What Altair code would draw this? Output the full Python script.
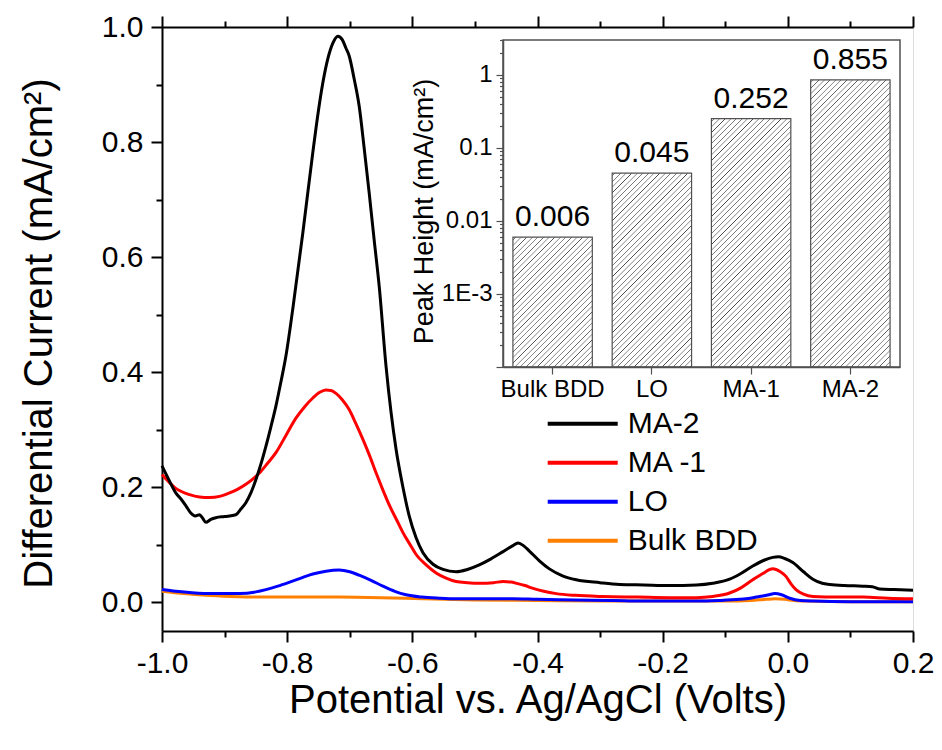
import math
import altair as alt
import pandas as pd

FONT = "Liberation Sans"

# ---------------- data ----------------
series_order = ["MA-2", "MA -1", "LO", "Bulk BDD"]
series_colors = ["#000000", "#ff0000", "#0000ff", "#ff8000"]

ma2_x = [-1.000, -0.990, -0.978, -0.970, -0.962, -0.954, -0.947, -0.940, -0.935, -0.930,
         -0.922, -0.914, -0.900, -0.882, -0.874, -0.866, -0.858, -0.850, -0.842, -0.834,
         -0.826, -0.818, -0.810, -0.802, -0.791, -0.775, -0.759, -0.750, -0.743, -0.735,
         -0.727, -0.719, -0.712, -0.706, -0.701, -0.693, -0.685, -0.677, -0.669, -0.661,
         -0.653, -0.642, -0.634, -0.626, -0.615, -0.605, -0.594, -0.583, -0.567, -0.551,
         -0.530, -0.512, -0.493, -0.475, -0.455, -0.440, -0.431, -0.422, -0.413, -0.397,
         -0.381, -0.360, -0.338, -0.300, -0.269, -0.230, -0.189, -0.146, -0.120, -0.093,
         -0.075, -0.056, -0.038, -0.024, -0.015, -0.005, 0.008, 0.025, 0.040, 0.055,
         0.067, 0.090, 0.120, 0.135, 0.147, 0.170, 0.200]
ma2_y = [0.237, 0.215, 0.190, 0.180, 0.168, 0.155, 0.150, 0.152, 0.146, 0.139,
         0.144, 0.147, 0.149, 0.152, 0.162, 0.173, 0.190, 0.213, 0.240, 0.271,
         0.305, 0.341, 0.383, 0.428, 0.510, 0.642, 0.782, 0.855, 0.903, 0.945,
         0.972, 0.984, 0.978, 0.963, 0.950, 0.910, 0.863, 0.790, 0.712, 0.630,
         0.550, 0.410, 0.330, 0.266, 0.200, 0.150, 0.112, 0.086, 0.066, 0.057,
         0.053, 0.057, 0.065, 0.075, 0.088, 0.098, 0.103, 0.098, 0.089, 0.072,
         0.058, 0.046, 0.039, 0.034, 0.031, 0.030, 0.029, 0.030, 0.033, 0.040,
         0.050, 0.063, 0.073, 0.078, 0.079, 0.076, 0.069, 0.053, 0.040, 0.033,
         0.031, 0.029, 0.028, 0.027, 0.023, 0.022, 0.021]

ma1_x = [-1.000, -0.978, -0.956, -0.940, -0.924, -0.908, -0.892, -0.878, -0.866, -0.855,
         -0.844, -0.831, -0.818, -0.802, -0.786, -0.772, -0.759, -0.748, -0.738, -0.730,
         -0.722, -0.712, -0.701, -0.690, -0.679, -0.668, -0.658, -0.647, -0.636, -0.625,
         -0.615, -0.604, -0.594, -0.578, -0.562, -0.546, -0.530, -0.512, -0.493, -0.470,
         -0.455, -0.442, -0.434, -0.420, -0.407, -0.390, -0.370, -0.340, -0.296, -0.240,
         -0.189, -0.146, -0.120, -0.093, -0.075, -0.056, -0.040, -0.024, -0.012, -0.003,
         0.005, 0.013, 0.025, 0.040, 0.080, 0.120, 0.160, 0.200]
ma1_y = [0.222, 0.198, 0.187, 0.183, 0.182, 0.184, 0.190, 0.197, 0.205, 0.214,
         0.225, 0.242, 0.260, 0.290, 0.320, 0.340, 0.355, 0.365, 0.369, 0.368,
         0.363, 0.352, 0.335, 0.310, 0.283, 0.254, 0.225, 0.195, 0.167, 0.143,
         0.121, 0.101, 0.083, 0.065, 0.051, 0.042, 0.036, 0.034, 0.033, 0.034,
         0.036, 0.035, 0.033, 0.029, 0.024, 0.019, 0.015, 0.012, 0.010, 0.009,
         0.008, 0.008, 0.010, 0.016, 0.025, 0.039, 0.050, 0.058, 0.053, 0.045,
         0.032, 0.022, 0.014, 0.010, 0.009, 0.009, 0.007, 0.006]

lo_x = [-1.000, -0.978, -0.956, -0.920, -0.876, -0.850, -0.834, -0.815, -0.796, -0.778,
        -0.759, -0.738, -0.717, -0.700, -0.685, -0.666, -0.647, -0.628, -0.610, -0.585,
        -0.557, -0.530, -0.480, -0.440, -0.400, -0.340, -0.280, -0.232, -0.180, -0.146,
        -0.110, -0.077, -0.060, -0.045, -0.030, -0.021, -0.010, 0.003, 0.020, 0.040,
        0.100, 0.150, 0.200]
lo_y = [0.022, 0.019, 0.017, 0.015, 0.015, 0.018, 0.022, 0.028, 0.035, 0.042,
        0.049, 0.054, 0.056, 0.053, 0.047, 0.038, 0.028, 0.019, 0.013, 0.009,
        0.007, 0.006, 0.006, 0.006, 0.005, 0.004, 0.003, 0.002, 0.002, 0.002,
        0.003, 0.005, 0.007, 0.010, 0.013, 0.015, 0.013, 0.007, 0.003, 0.002,
        0.001, 0.001, 0.001]

bdd_x = [-1.000, -0.965, -0.930, -0.890, -0.850, -0.780, -0.717, -0.650, -0.583, -0.500,
         -0.400, -0.300, -0.200, -0.100, -0.060, -0.035, -0.020, -0.005, 0.010, 0.030,
         0.100, 0.200]
bdd_y = [0.019, 0.015, 0.012, 0.010, 0.009, 0.009, 0.009, 0.008, 0.006, 0.004,
         0.003, 0.002, 0.002, 0.002, 0.003, 0.005, 0.006, 0.005, 0.003, 0.002,
         0.001, 0.001]

inset_cats = ["Bulk BDD", "LO", "MA-1", "MA-2"]
inset_peaks = [0.006, 0.045, 0.252, 0.855]

x_tick_values = [round(-1.0 + 0.1 * i, 1) for i in range(13)]
y_tick_values = [round(0.1 * i, 1) for i in range(11)]
log_tick_values = [m * 10.0 ** e for e in range(-4, 1) for m in range(1, 10)]
log_tick_values = [float(f"{v:.6g}") for v in log_tick_values if v <= 3.0]

# ---------------- tables ----------------
rows = []
for name, xs, ys in [("Bulk BDD", bdd_x, bdd_y), ("LO", lo_x, lo_y),
                     ("MA -1", ma1_x, ma1_y), ("MA-2", ma2_x, ma2_y)]:
    for a, b in zip(xs, ys):
        rows.append({"potential": a, "current": b, "series": name})
lines_df = pd.DataFrame(rows)
inset_df = pd.DataFrame({"cat": inset_cats, "peak": inset_peaks})

# ---------------- layout ----------------
W, H = 751, 604
INSET_X = [341, 738]
INSET_Y = [340, 13]
LOG_DOMAIN = [1e-4, 3.0]

major_x = "abs(round(datum.value*10)) % 2 == 0"
common_axis = dict(tickColor="black", tickWidth=2, domainColor="black", domainWidth=2,
                   labelFont=FONT, labelColor="black", labelFontSize=30,
                   titleFont=FONT, titleColor="black", titleFontSize=40,
                   titleFontWeight="normal", grid=False, labelFlush=False,
                   labelOverlap=False, labelBound=False)

x_main = alt.X(
    "potential:Q",
    scale=alt.Scale(domain=[-1.0, 0.2], nice=False, zero=False),
    axis=alt.Axis(orient="bottom", values=x_tick_values,
                  labelExpr=f"{major_x} ? (datum.value < 0 ? '-' : '') + format(abs(datum.value), '.1f') : ''",
                  tickSize={"condition": {"test": major_x, "value": 11}, "value": 6},
                  labelPadding=6, title="Potential vs. Ag/AgCl (Volts)",
                  titleY=81, titleBaseline="alphabetic", **common_axis),
)
y_main = alt.Y(
    "current:Q",
    scale=alt.Scale(domain=[-0.05, 1.0], nice=False, zero=False),
    axis=alt.Axis(orient="left", values=y_tick_values,
                  labelExpr=f"{major_x} ? format(datum.value, '.1f') : ''",
                  tickSize={"condition": {"test": major_x, "value": 11}, "value": 6},
                  labelPadding=8, title="Differential Current (mA/cm²)",
                  titleX=-111, titleY=306, titleBaseline="alphabetic", **common_axis),
)

lines = alt.Chart(lines_df).mark_line(strokeWidth=3, interpolate="monotone").encode(
    x=x_main,
    y=y_main,
    color=alt.Color(
        "series:N",
        scale=alt.Scale(domain=series_order, range=series_colors),
        legend=alt.Legend(orient="none", legendX=383.7, legendY=377.3, title=None,
                          symbolType="stroke", symbolSize=4900, symbolStrokeWidth=4,
                          clipHeight=38.7, rowPadding=0, padding=0,
                          labelFont=FONT, labelFontSize=30, labelColor="black",
                          labelOffset=8, labelLimit=400),
    ),
    detail="series:N",
)

top_ticks = alt.Chart(lines_df).mark_point(opacity=0).encode(
    x=alt.X("potential:Q",
            scale=alt.Scale(domain=[-1.0, 0.2], nice=False, zero=False),
            axis=alt.Axis(orient="top", values=x_tick_values, labels=False, title="",
                          tickSize={"condition": {"test": major_x, "value": 11}, "value": 6},
                          tickColor="black", tickWidth=2, domainColor="black",
                          domainWidth=2, grid=False)),
    y=alt.value(0),
)

# ---------------- inset ----------------
GRAY = "#505050"
major_log = "abs(log(datum.value)/LN10 - round(log(datum.value)/LN10)) < 1e-6"
inset_axis_common = dict(tickColor=GRAY, tickWidth=1.2, domainColor=GRAY, domainWidth=1.5,
                         labelFont=FONT, labelColor="black", titleFont=FONT,
                         titleColor="black", titleFontWeight="normal", grid=False,
                         labelOverlap=False, labelBound=False, labelFlush=False)

x_in = alt.X("cat:N",
             scale=alt.Scale(domain=inset_cats, range=INSET_X, paddingInner=0.2, paddingOuter=0.1),
             axis=alt.Axis(orient="bottom", offset=INSET_Y[0] - H, labelAngle=0, tickSize=7,
                           labelFontSize=24, labelPadding=3, title="", **inset_axis_common))
y_in = alt.Y("peak:Q",
             scale=alt.Scale(type="log", domain=LOG_DOMAIN, range=INSET_Y, nice=False),
             axis=alt.Axis(orient="left", offset=-INSET_X[0], values=log_tick_values,
                           labelExpr="datum.value == 1 ? '1' : datum.value == 0.1 ? '0.1' : datum.value == 0.01 ? '0.01' : datum.value == 0.001 ? '1E-3' : ''",
                           tickSize={"condition": {"test": major_log, "value": 7}, "value": 3.5},
                           labelFontSize=24, labelPadding=4,
                           title="Peak Height (mA/cm²)", titleFontSize=27,
                           titleX=-71, titleY=184, titleBaseline="alphabetic",
                           **inset_axis_common))

step = (INSET_X[1] - INSET_X[0]) / (len(inset_cats) - 0.2 + 0.2)
bar_w = step * 0.8
span = math.log10(LOG_DOMAIN[1]) - math.log10(LOG_DOMAIN[0])
inner_h = INSET_Y[0] - INSET_Y[1]


def hatch(v, period=5.6, lw=1.5, col="#4a4a4a"):
    h = (math.log10(v) - math.log10(LOG_DOMAIN[0])) / span * inner_h
    w = bar_w
    r = h / w
    sx = (1 + r) / (1 + r * r)
    total = w + h
    stops = [alt.GradientStop(offset=0, color="white")]
    pos = period / 2
    while pos + lw / 2 < total:
        for o, c in ((pos - lw / 2, "white"), (pos, col), (pos + lw / 2, "white")):
            stops.append(alt.GradientStop(offset=o / total, color=c))
        pos += period
    stops.append(alt.GradientStop(offset=1, color="white"))
    return alt.LinearGradient(gradient="linear", stops=stops, x1=0, y1=0, x2=sx, y2=r * sx)


bar_layers = []
for cat, v in zip(inset_cats, inset_peaks):
    bar_layers.append(
        alt.Chart(inset_df).transform_filter(alt.datum.cat == cat)
        .mark_bar(fill=hatch(v), stroke=GRAY, strokeWidth=1.2)
        .encode(x=x_in, y=y_in, y2=alt.datum(LOG_DOMAIN[0]))
    )

value_labels = alt.Chart(inset_df).mark_text(
    dy=-11, baseline="alphabetic", font=FONT, fontSize=30, color="black"
).encode(x=x_in, y=y_in, text=alt.Text("peak:Q", format=".3f"))

frame = alt.Chart(alt.Data(values=[{"k": 1}])).mark_rect(
    fillOpacity=0, stroke=GRAY, strokeWidth=1.5
).encode(x=alt.value(INSET_X[0]), x2=alt.value(INSET_X[1]),
         y=alt.value(INSET_Y[1]), y2=alt.value(INSET_Y[0]))

inset = alt.layer(*bar_layers, value_labels, frame)

chart = (
    alt.layer(lines, top_ticks, inset)
    .resolve_scale(x="independent", y="independent")
    .properties(width=W, height=H, autosize=alt.AutoSizeParams(type="none"),
                padding={"left": 154, "top": 19, "right": 21, "bottom": 111})
    .configure_view(stroke="black", strokeWidth=2)
    .configure(font=FONT)
)

chart.save("out.html", embed_options={"renderer": "svg", "actions": False})
